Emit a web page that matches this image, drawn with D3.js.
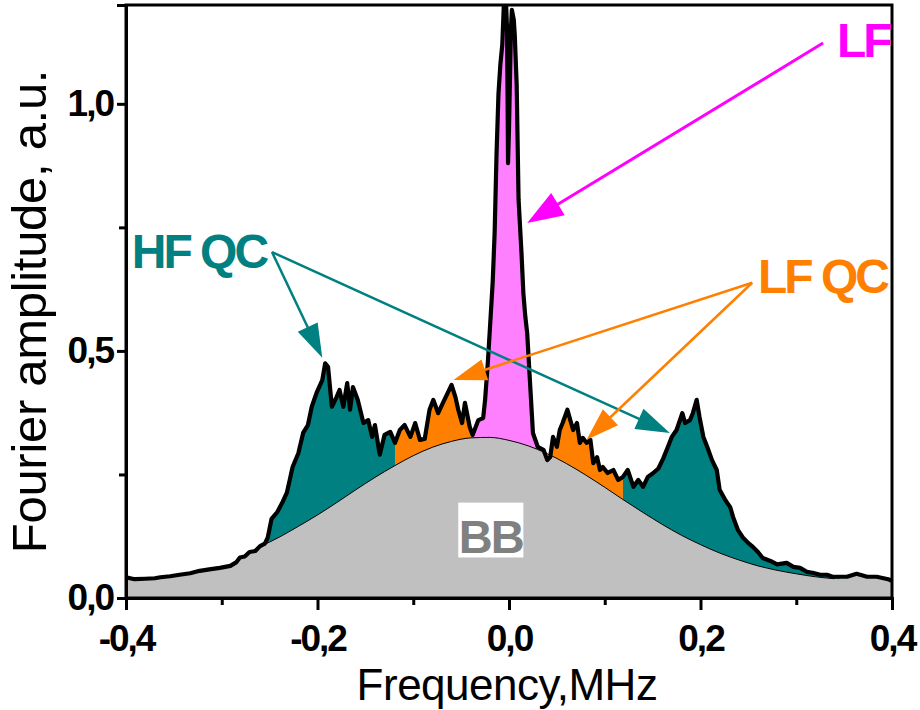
<!DOCTYPE html>
<html>
<head>
<meta charset="utf-8">
<script src="https://cdn.jsdelivr.net/npm/d3@7"></script>
<style>
  body { margin: 0; background: #fff; }
  svg text { font-family: "Liberation Sans", Arial, sans-serif; }
</style>
</head>
<body>
<div id="root"></div>
<script>
// spectrum (MHz, a.u.)
const freq = [
  -0.400,-0.391,-0.380,-0.370,-0.364,-0.354,-0.344,-0.333,-0.323,-0.313,-0.302,-0.291,-0.285,-0.281,-0.276,-0.271,
  -0.265,-0.260,-0.255,-0.252,-0.248,-0.242,-0.237,-0.232,-0.229,-0.226,-0.220,-0.215,-0.210,-0.206,-0.201,-0.195,
  -0.192,-0.189,-0.185,-0.180,-0.177,-0.173,-0.169,-0.166,-0.163,-0.158,-0.152,-0.147,-0.143,-0.140,-0.135,-0.130,
  -0.124,-0.119,-0.114,-0.109,-0.103,-0.098,-0.093,-0.088,-0.083,-0.079,-0.074,-0.069,-0.064,-0.060,-0.056,-0.053,
  -0.049,-0.046,-0.041,-0.038,-0.032,-0.027,-0.025,-0.022,-0.020,-0.017,-0.015,-0.013,-0.011,-0.009,-0.007,-0.005,
  -0.004,-0.002,-0.001,0.000,0.002,0.003,0.005,0.006,0.008,0.010,0.013,0.015,0.017,0.019,0.022,0.025,
  0.030,0.036,0.040,0.043,0.046,0.050,0.053,0.056,0.061,0.064,0.067,0.071,0.074,0.077,0.081,0.085,
  0.088,0.092,0.095,0.098,0.103,0.109,0.114,0.119,0.124,0.130,0.135,0.140,0.145,0.150,0.156,0.161,
  0.166,0.170,0.175,0.181,0.184,0.189,0.192,0.196,0.199,0.203,0.207,0.212,0.217,0.220,0.226,0.231,
  0.234,0.239,0.244,0.250,0.255,0.260,0.265,0.273,0.280,0.290,0.297,0.304,0.311,0.317,0.325,0.332,
  0.338,0.346,0.353,0.363,0.374,0.384,0.396,0.400
];
const amp = [
  0.042,0.038,0.039,0.040,0.042,0.044,0.047,0.050,0.055,0.058,0.061,0.065,0.072,0.082,0.084,0.093,
  0.095,0.105,0.110,0.122,0.160,0.174,0.192,0.213,0.239,0.265,0.293,0.334,0.350,0.387,0.415,0.441,
  0.475,0.468,0.387,0.407,0.421,0.387,0.435,0.381,0.427,0.401,0.354,0.360,0.326,0.350,0.290,0.330,
  0.336,0.314,0.340,0.350,0.326,0.354,0.320,0.322,0.381,0.401,0.374,0.395,0.415,0.431,0.407,0.381,
  0.354,0.395,0.346,0.330,0.360,0.364,0.400,0.480,0.543,0.640,0.739,0.900,1.020,1.080,1.120,1.220,
  1.250,1.150,0.880,0.950,1.150,1.190,1.170,1.140,1.040,0.806,0.700,0.617,0.570,0.536,0.435,0.334,
  0.306,0.300,0.279,0.285,0.326,0.306,0.340,0.354,0.381,0.360,0.340,0.354,0.314,0.324,0.314,0.320,
  0.273,0.285,0.259,0.265,0.253,0.259,0.239,0.245,0.259,0.225,0.239,0.225,0.245,0.252,0.262,0.282,
  0.306,0.326,0.340,0.374,0.354,0.360,0.374,0.401,0.366,0.326,0.306,0.279,0.259,0.219,0.198,0.184,
  0.164,0.138,0.123,0.111,0.103,0.093,0.081,0.075,0.068,0.071,0.063,0.061,0.053,0.051,0.047,0.047,
  0.043,0.043,0.043,0.049,0.043,0.043,0.038,0.035
];

// broad-band (BB) background curve
const bbFreq = [-0.40,-0.38,-0.36,-0.34,-0.32,-0.30,-0.28,-0.26,-0.24,-0.22,-0.20,-0.18,-0.16,-0.14,-0.12,-0.10,-0.08,-0.06,-0.04,-0.02,
  0.00,0.02,0.04,0.06,0.08,0.10,0.12,0.14,0.16,0.18,0.20,0.22,0.24,0.26,0.28,0.30,0.32,0.34,0.36,0.38,0.40];
const bbAmp = [0.038,0.042,0.048,0.054,0.063,0.074,0.088,0.104,0.123,0.145,0.168,0.193,0.219,0.244,0.267,0.288,0.305,0.317,0.324,0.325,
  0.319,0.308,0.292,0.272,0.249,0.224,0.198,0.173,0.149,0.127,0.108,0.091,0.077,0.065,0.056,0.049,0.043,0.039,0.036,0.034,0.033];

// coloured components
const bandFrom  = [-0.262, -0.119, -0.037, 0.030, 0.119];
const bandTo    = [-0.119, -0.037,  0.030, 0.119, 0.345];
const bandColor = ['#008080', '#ff8000', '#ff80ff', '#ff8000', '#008080'];

const xMajor = [-0.4, -0.2, 0, 0.2, 0.4];
const xMinor = [-0.3, -0.1, 0.1, 0.3];
const yMajor = [0, 0.5, 1.0];
const yMinor = [0.25, 0.75];

const W = 920, H = 710;
const m = { top: 5, right: 28, bottom: 112, left: 126 };
const w = W - m.left - m.right, h = H - m.top - m.bottom;

const svg = d3.select('#root').append('svg').attr('width', W).attr('height', H);
const g = svg.append('g').attr('transform', `translate(${m.left},${m.top})`);

const x = d3.scaleLinear().domain([-0.4, 0.4]).range([0, w]);
const y = d3.scaleLinear().domain([0, 1.2]).range([h, 0]);
const bb = d3.scaleLinear().domain(bbFreq).range(bbAmp);

const defs = svg.append('defs');
defs.append('clipPath').attr('id', 'plot').append('rect').attr('width', w).attr('height', h);

const pts = freq.map((f, i) => ({ f, a: amp[i], b: bb(f) }));
const plot = g.append('g').attr('clip-path', 'url(#plot)');

// grey: everything under the spectrum
plot.append('path').datum(pts)
  .attr('fill', '#c0c0c0')
  .attr('d', d3.area().x(d => x(d.f)).y0(h).y1(d => y(d.a)));

// components between BB and the spectrum
bandFrom.forEach((f0, i) => {
  const id = 'band' + i;
  defs.append('clipPath').attr('id', id).append('rect')
    .attr('x', x(f0)).attr('y', 0).attr('width', x(bandTo[i]) - x(f0)).attr('height', h);
  plot.append('path').datum(pts)
    .attr('clip-path', `url(#${id})`)
    .attr('fill', bandColor[i])
    .attr('d', d3.area().x(d => x(d.f)).y0(d => y(d.b)).y1(d => y(Math.max(d.a, d.b))));
});

// BB line
const bbPts = bbFreq.map((f, i) => ({ f, a: bbAmp[i] })).filter(d => d.f >= -0.26 && d.f <= 0.34);
plot.append('path').datum(bbPts)
  .attr('fill', 'none').attr('stroke', '#000').attr('stroke-width', 1)
  .attr('d', d3.line().x(d => x(d.f)).y(d => y(d.a)).curve(d3.curveMonotoneX));

// spectrum
plot.append('path').datum(pts)
  .attr('fill', 'none').attr('stroke', '#000').attr('stroke-width', 4.2)
  .attr('stroke-linejoin', 'round')
  .attr('d', d3.line().x(d => x(d.f)).y(d => y(d.a)));

// axes
const fmt = v => d3.format('.1f')(v).replace('.', ',').replace('\u2212', '-');

g.append('g').attr('transform', `translate(0,${h})`)
  .call(d3.axisBottom(x).tickValues(xMajor).tickSize(12).tickPadding(15).tickFormat(fmt));
g.append('g').attr('transform', `translate(0,${h})`)
  .call(d3.axisBottom(x).tickValues(xMinor).tickSize(7).tickFormat(''))
  .select('.domain').remove();
g.append('g')
  .call(d3.axisLeft(y).tickValues(yMajor).tickSize(9).tickPadding(4).tickFormat(fmt));
g.append('g')
  .call(d3.axisLeft(y).tickValues(yMinor).tickSize(7).tickFormat(''))
  .select('.domain').remove();

g.selectAll('.tick line').attr('stroke-width', 3);
g.selectAll('.domain').attr('stroke-width', 3);
g.selectAll('.tick text')
  .attr('font-family', '"Liberation Sans", Arial, sans-serif')
  .attr('font-size', 37).attr('font-weight', 'bold')
  .attr('letter-spacing', -2).attr('fill', '#000');

g.append('rect').attr('width', w).attr('height', h)
  .attr('fill', 'none').attr('stroke', '#000').attr('stroke-width', 3);

// axis titles
svg.append('text')
  .attr('transform', `translate(46,${m.top + h / 2 + 10}) rotate(-90)`)
  .attr('text-anchor', 'middle').attr('font-size', 49).attr('letter-spacing', -0.3)
  .text('Fourier amplitude, a.u.');
svg.append('text')
  .attr('x', 507).attr('y', 700)
  .attr('text-anchor', 'middle').attr('font-size', 44).attr('letter-spacing', -0.5)
  .text('Frequency,MHz');

// annotations (data coordinates)
function arrow(f1, a1, f2, a2, color, len, half, sw) {
  const x1 = x(f1), y1 = y(a1), x2 = x(f2), y2 = y(a2);
  const dx = x2 - x1, dy = y2 - y1, L = Math.hypot(dx, dy);
  const ux = dx / L, uy = dy / L;
  const bx = x2 - ux * len, by = y2 - uy * len;
  g.append('line').attr('x1', x1).attr('y1', y1).attr('x2', bx + ux * 2).attr('y2', by + uy * 2)
    .attr('stroke', color).attr('stroke-width', sw);
  g.append('path')
    .attr('d', `M${x2},${y2}L${bx - uy * half},${by + ux * half}L${bx + uy * half},${by - ux * half}Z`)
    .attr('fill', color);
}

arrow(0.328, 1.123, 0.019, 0.759, '#ff00ff', 36, 13, 3);
arrow(-0.2475, 0.700, -0.195, 0.486, '#008080', 34, 11, 2.5);
arrow(-0.2475, 0.700, 0.168, 0.334, '#008080', 34, 11, 2.5);
arrow(0.254, 0.638, -0.058, 0.441, '#ff8000', 33, 11, 2.5);
arrow(0.254, 0.638, 0.081, 0.320, '#ff8000', 33, 11, 2.5);

const labels = [
  { t: 'LF',    f: 0.3425, a: 1.095, c: '#ff00ff' },
  { t: 'HF QC', f: -0.394, a: 0.668, c: '#008080' },
  { t: 'LF QC', f: 0.260,  a: 0.617, c: '#ff8000' }
];
labels.forEach(d => {
  g.append('text').attr('x', x(d.f)).attr('y', y(d.a))
    .attr('font-size', 48).attr('font-weight', 'bold').attr('letter-spacing', -3)
    .attr('fill', d.c).text(d.t);
});

// BB label on white patch
g.append('rect')
  .attr('x', x(-0.053)).attr('y', y(0.193)).attr('width', x(0.015) - x(-0.053)).attr('height', y(0.082) - y(0.193))
  .attr('fill', '#fff');
g.append('text').attr('x', x(-0.019)).attr('y', y(0.091))
  .attr('text-anchor', 'middle').attr('font-size', 47).attr('font-weight', 'bold').attr('letter-spacing', -2)
  .attr('fill', '#808080').text('BB');
</script>
</body>
</html>
